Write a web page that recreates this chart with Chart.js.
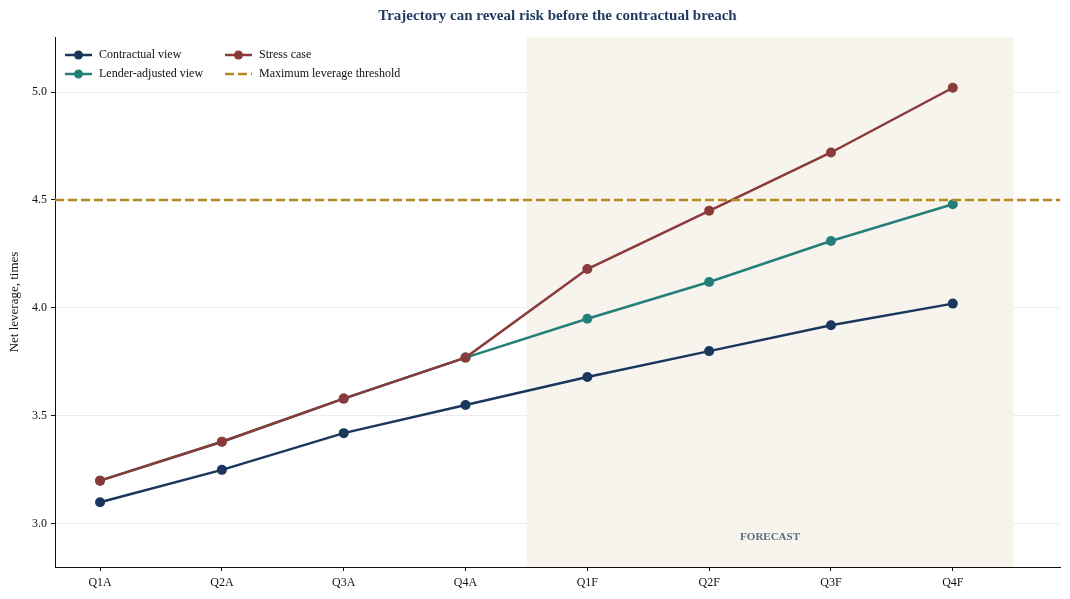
<!DOCTYPE html>
<html>
<head>
<meta charset="utf-8">
<script src="https://cdn.jsdelivr.net/npm/chart.js@4.4.1/dist/chart.umd.min.js"></script>
<style>
  body { margin: 0; background: #fff; }
  #wrap { width: 1070px; height: 599px; }
</style>
</head>
<body>
<div id="wrap"><canvas id="myChart"></canvas></div>
<script>
// chart values
const quarters = ['Q1A', 'Q2A', 'Q3A', 'Q4A', 'Q1F', 'Q2F', 'Q3F', 'Q4F']
const contractual = [3.10, 3.25, 3.42, 3.55, 3.68, 3.80, 3.92, 4.02]
const lenderAdjusted = [3.20, 3.38, 3.58, 3.77, 3.95, 4.12, 4.31, 4.48]
const stressCase = [3.20, 3.38, 3.58, 3.77, 4.18, 4.45, 4.72, 5.02]
const threshold = 4.5
const yTicks = [3.0, 3.5, 4.0, 4.5, 5.0]

const FONT = "'Liberation Serif', 'DejaVu Serif', serif"
const X_MIN = -0.37
const X_MAX = 7.88

function toPoints(values) {
  return values.map(function (v, i) { return { x: i, y: v } })
}

// shaded forecast window and its label
const forecastBand = {
  id: 'forecastBand',
  beforeDatasetsDraw(chart) {
    const ctx = chart.ctx
    const x = chart.scales.x
    const area = chart.chartArea
    const left = x.getPixelForValue(3.5)
    const right = x.getPixelForValue(7.5)
    ctx.save()
    ctx.fillStyle = '#f7f4ee'
    ctx.fillRect(left, area.top, right - left, area.bottom - area.top)
    ctx.fillStyle = '#5b6b80'
    ctx.font = 'bold 11px ' + FONT
    ctx.textAlign = 'center'
    ctx.textBaseline = 'middle'
    ctx.fillText('FORECAST', (left + right) / 2, chart.scales.y.getPixelForValue(2.94))
    ctx.restore()
  }
}

// title and two-column legend drawn on the canvas
const titleAndLegend = {
  id: 'titleAndLegend',
  afterDraw(chart) {
    const ctx = chart.ctx
    const area = chart.chartArea
    ctx.save()
    ctx.fillStyle = '#1f3a5f'
    ctx.font = 'bold 15px ' + FONT
    ctx.textAlign = 'center'
    ctx.textBaseline = 'middle'
    ctx.fillText('Trajectory can reveal risk before the contractual breach', (area.left + area.right) / 2, 16)

    // legend order: column 1 = contractual, lender; column 2 = stress, threshold
    const order = [0, 2, 1, 3]
    ctx.font = '12px ' + FONT
    ctx.textAlign = 'left'
    order.forEach(function (idx, k) {
      const ds = chart.data.datasets[idx]
      const col = k % 2
      const row = Math.floor(k / 2)
      const x0 = area.left + 10 + col * 160
      const y0 = area.top + 18 + row * 19
      ctx.strokeStyle = ds.borderColor
      ctx.lineWidth = 2.5
      ctx.setLineDash(ds.borderDash || [])
      ctx.beginPath()
      ctx.moveTo(x0, y0)
      ctx.lineTo(x0 + 27, y0)
      ctx.stroke()
      ctx.setLineDash([])
      if (ds.pointRadius > 0) {
        ctx.fillStyle = ds.borderColor
        ctx.beginPath()
        ctx.arc(x0 + 13.5, y0, 4.5, 0, Math.PI * 2)
        ctx.fill()
      }
      ctx.fillStyle = '#111'
      ctx.fillText(ds.label, x0 + 34, y0)
    })
    ctx.restore()
  }
}

function lineSet(label, values, color, order) {
  return {
    label: label,
    data: toPoints(values),
    borderColor: color,
    backgroundColor: color,
    borderWidth: 2.5,
    pointRadius: 5,
    pointHoverRadius: 5,
    pointBorderWidth: 0,
    tension: 0,
    order: order
  }
}

const ctx = document.getElementById('myChart').getContext('2d')
const chart = new Chart(ctx, {
  type: 'line',
  data: {
    datasets: [
      lineSet('Contractual view', contractual, '#1b365d', 3),
      lineSet('Lender-adjusted view', lenderAdjusted, '#237f78', 2),
      lineSet('Stress case', stressCase, '#8b3a3a', 1),
      {
        label: 'Maximum leverage threshold',
        data: [{ x: X_MIN, y: threshold }, { x: X_MAX, y: threshold }],
        borderColor: '#b5891f',
        borderWidth: 2.5,
        borderDash: [9, 4],
        pointRadius: 0,
        order: 0
      }
    ]
  },
  options: {
    responsive: true,
    maintainAspectRatio: false,
    animation: false,
    layout: { padding: { top: 37, right: 10, left: 0, bottom: 0 } },
    plugins: {
      legend: { display: false },
      title: { display: false },
      tooltip: { enabled: false }
    },
    scales: {
      x: {
        type: 'linear',
        min: X_MIN,
        max: X_MAX,
        afterBuildTicks: function (scale) {
          scale.ticks = quarters.map(function (q, i) { return { value: i } })
        },
        afterFit: function (scale) { scale.height = 32 },
        ticks: {
          callback: function (v) { return quarters[v] },
          font: { family: FONT, size: 12 },
          color: '#111',
          padding: 5
        },
        grid: { drawOnChartArea: false, tickLength: 4, tickColor: '#111' },
        border: { color: '#111', width: 1 }
      },
      y: {
        min: 2.8,
        max: 5.255,
        afterBuildTicks: function (scale) {
          scale.ticks = yTicks.map(function (v) { return { value: v } })
        },
        afterFit: function (scale) { scale.width = 55 },
        ticks: {
          callback: function (v) { return v.toFixed(1) },
          font: { family: FONT, size: 12 },
          color: '#111',
          padding: 4
        },
        grid: { color: '#ebebeb', tickLength: 4, tickColor: '#111' },
        border: { color: '#111', width: 1 },
        title: {
          display: true,
          text: 'Net leverage, times',
          font: { family: FONT, size: 13 },
          color: '#111',
          padding: { top: 7, bottom: 0 }
        }
      }
    }
  },
  plugins: [forecastBand, titleAndLegend]
})
</script>
</body>
</html>
